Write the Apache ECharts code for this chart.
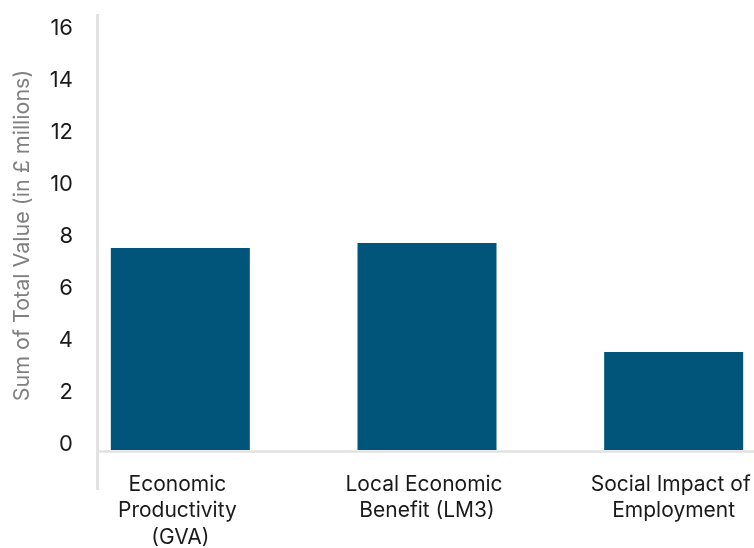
<!DOCTYPE html>
<html>
<head>
<meta charset="utf-8">
<script src="https://cdn.jsdelivr.net/npm/echarts@6/dist/echarts.min.js"></script>
<style>
html,body{margin:0;padding:0;background:#fff;}
#chart{width:754px;height:548px;}
</style>
</head>
<body>
<div id="chart"></div>
<script>
var categories = ['Economic Productivity (GVA)', 'Local Economic Benefit (LM3)', 'Social Impact of Employment'];
var values = [7.77, 7.96, 3.77];
var yTicks = [0, 2, 4, 6, 8, 10, 12, 14, 16];
var yTitle = 'Sum of Total Value (in £ millions)';

var chart = echarts.init(document.getElementById('chart'), null, {renderer: 'canvas'});
var font = 'Inter, "Noto Sans", sans-serif';
chart.setOption({
  animation: false,
  backgroundColor: '#ffffff',
  grid: {left: 57, width: 740, top: 34, height: 416, containLabel: false, outerBoundsMode: 'none'},
  graphic: [
    {type: 'line', shape: {x1: 97.5, y1: 14, x2: 97.5, y2: 490}, style: {stroke: '#e2e2e2', lineWidth: 3}, z: 0},
    {type: 'line', shape: {x1: 98, y1: 451.5, x2: 754, y2: 451.5}, style: {stroke: '#e2e2e2', lineWidth: 2.5}, z: 0}
  ],
  xAxis: {
    type: 'category',
    data: categories,
    boundaryGap: true,
    axisLine: {show: false},
    axisTick: {show: false},
    axisLabel: {
      margin: 21,
      fontFamily: font,
      fontSize: 21,
      color: '#1a1a1a',
      lineHeight: 26.5,
      width: 170,
      overflow: 'break',
      interval: 0
    }
  },
  yAxis: {
    type: 'value',
    min: yTicks[0],
    max: yTicks[yTicks.length - 1],
    interval: 2,
    name: yTitle,
    nameLocation: 'middle',
    nameGap: 23,
    nameTextStyle: {fontFamily: font, fontSize: 21.5, color: '#808080', padding: [0, 0, 0, 13]},
    axisLine: {show: false},
    axisTick: {show: false},
    splitLine: {show: false},
    axisLabel: {
      margin: -16,
      fontFamily: font,
      fontSize: 22,
      color: '#1a1a1a',
      verticalAlign: 'bottom',
      lineHeight: 12
    }
  },
  series: [{
    type: 'bar',
    data: values,
    barWidth: 139,
    itemStyle: {color: '#02557a'},
    z: 2
  }]
});
</script>
</body>
</html>
